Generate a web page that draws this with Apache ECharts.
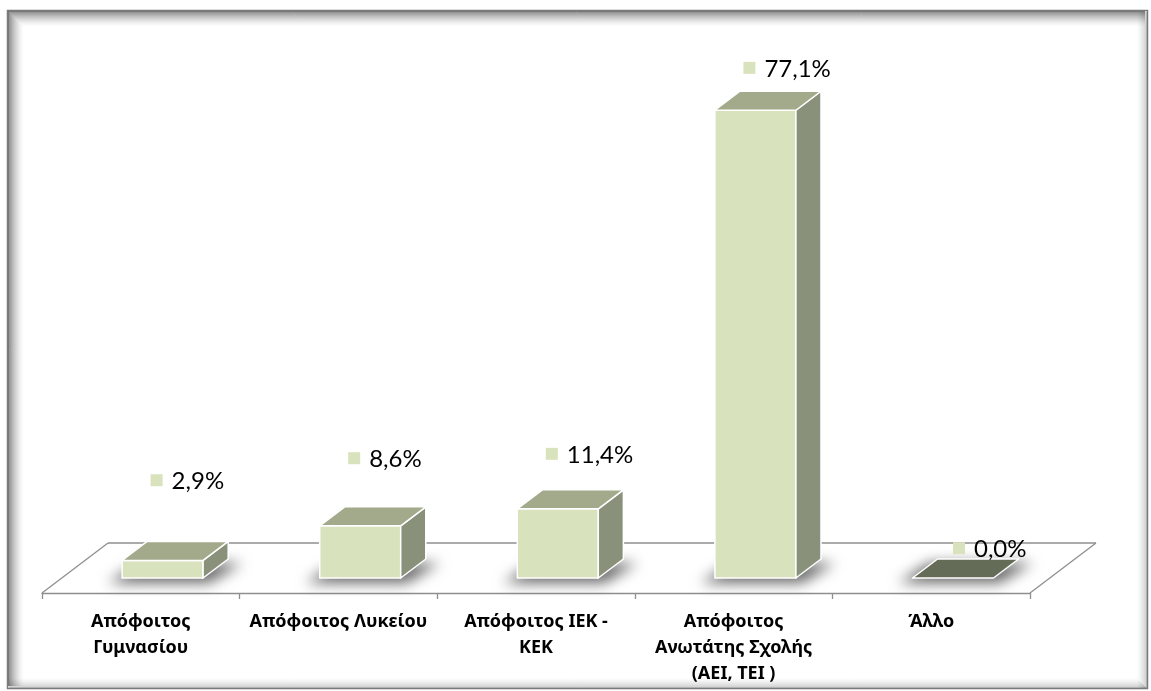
<!DOCTYPE html>
<html>
<head>
<meta charset="utf-8">
<script src="https://cdn.jsdelivr.net/npm/echarts@6/dist/echarts.min.js"></script>
<style>
  html, body { margin: 0; padding: 0; background: #ffffff; }
  #chart { width: 1151px; height: 691px; }
</style>
</head>
<body>
<div id="chart"></div>
<script>
// Education level of respondents (share of total, %)
const categories = [
  'Απόφοιτος\nΓυμνασίου',
  'Απόφοιτος Λυκείου',
  'Απόφοιτος ΙΕΚ -\nΚΕΚ',
  'Απόφοιτος\nΑνωτάτης Σχολής\n(ΑΕΙ, ΤΕΙ )',
  'Άλλο'
];
const shares = [2.9, 8.6, 11.4, 77.1, 0.0];
const shareLabels = shares.map(v => v.toFixed(1).replace('.', ',') + '%');

// Oblique projection of the floor depth (screen px for the full depth)
const DEPTH_DX = 66, DEPTH_DY = -50;
// Bars occupy this slice of the floor depth
const BAR_FRONT = 0.30, BAR_BACK = 0.68;
const BAR_WIDTH_RATIO = 0.41;

const COLORS = {
  front: '#d8e3bd',
  top: '#a2aa8b',
  side: '#8a917a',
  zeroTop: '#646b57',
  key: '#d8e3bd',
  floor: '#8f8f8f'
};

function pt(x, y) { return [x, y]; }

function renderFloor(params, api) {
  const n = categories.length;
  const band = api.size([1, 0])[0];
  const left = api.coord([0, 0])[0] - band / 2;
  const right = api.coord([n - 1, 0])[0] + band / 2;
  const y = api.coord([0, 0])[1];
  const line = (a, b) => ({
    type: 'line',
    shape: { x1: a[0], y1: a[1], x2: b[0], y2: b[1] },
    style: { stroke: COLORS.floor, lineWidth: 1.3 }
  });
  return {
    type: 'group',
    children: [
      line(pt(left + DEPTH_DX, y + DEPTH_DY), pt(right + DEPTH_DX, y + DEPTH_DY)),
      line(pt(left, y), pt(left + DEPTH_DX, y + DEPTH_DY)),
      line(pt(right, y), pt(right + DEPTH_DX, y + DEPTH_DY))
    ]
  };
}

function renderBar(params, api) {
  const i = api.value(0);
  const v = api.value(1);
  const base = api.coord([i, 0]);
  const top = api.coord([i, v]);
  const band = api.size([1, 0])[0];
  const w = band * BAR_WIDTH_RATIO;
  const cx = base[0] + DEPTH_DX * BAR_FRONT + 2;
  const x0 = cx - w / 2, x1 = cx + w / 2;
  const yb = base[1] + DEPTH_DY * BAR_FRONT;
  const yt = top[1] + DEPTH_DY * BAR_FRONT;
  const ddx = DEPTH_DX * (BAR_BACK - BAR_FRONT);
  const ddy = DEPTH_DY * (BAR_BACK - BAR_FRONT);
  const edge = { stroke: '#ffffff', lineWidth: 1.5, lineJoin: 'round' };

  // soft drop shadow of the footprint, drawn off-canvas so only the blur shows
  const OFF = 3000;
  const shadowPts = [
    pt(x0 - 14 - OFF, yb + 5), pt(x1 + 6 - OFF, yb + 5),
    pt(x1 + ddx + 14 - OFF, yb + ddy + 4), pt(x0 + ddx - 8 - OFF, yb + ddy + 4)
  ];
  const children = [{
    type: 'polygon',
    shape: { points: shadowPts },
    style: {
      fill: '#000',
      shadowBlur: 14,
      shadowColor: 'rgba(0,0,0,0.6)',
      shadowOffsetX: OFF,
      shadowOffsetY: 0
    }
  }];

  if (v > 0) {
    children.push({
      type: 'polygon',
      shape: { points: [pt(x0, yb), pt(x1, yb), pt(x1, yt), pt(x0, yt)] },
      style: Object.assign({ fill: COLORS.front }, edge)
    });
    children.push({
      type: 'polygon',
      shape: { points: [pt(x1, yb), pt(x1, yt), pt(x1 + ddx, yt + ddy), pt(x1 + ddx, yb + ddy)] },
      style: Object.assign({ fill: COLORS.side }, edge)
    });
  }
  children.push({
    type: 'polygon',
    shape: { points: [pt(x0, yt), pt(x1, yt), pt(x1 + ddx, yt + ddy), pt(x0 + ddx, yt + ddy)] },
    style: Object.assign({ fill: v > 0 ? COLORS.top : COLORS.zeroTop }, edge)
  });

  // value label: legend key square followed by the percentage
  const lift = 55 - 12.6 * (i - 2);
  const ly = yt - lift;
  const kx = cx - 6 + (v > 0 ? 0 : 12);
  children.push({
    type: 'rect',
    shape: { x: kx - 6, y: ly - 6, width: 12, height: 12 },
    style: { fill: COLORS.key }
  });
  children.push({
    type: 'text',
    x: kx + 15,
    y: ly + 1,
    style: {
      text: shareLabels[params.dataIndex],
      fill: '#000000',
      font: '24px Lato, "Open Sans", sans-serif',
      verticalAlign: 'middle',
      align: 'left'
    }
  });
  return { type: 'group', children };
}

// inner bevel of the outer frame
const frame = [];
const FX = 7, FY = 10, FW = 1140, FH = 678;
frame.push({
  type: 'rect', silent: true,
  shape: { x: FX + 0.5, y: FY + 0.5, width: FW, height: FH },
  style: { fill: 'none', stroke: '#7a7a7a', lineWidth: 1.5 }
});
for (let k = 1; k <= 16; k++) {
  const a = 0.5 * Math.pow(1 - k / 17, 1.6);
  frame.push({
    type: 'line', silent: true,
    shape: { x1: FX + k, y1: FY + k + 0.5, x2: FX + FW - 2, y2: FY + k + 0.5 },
    style: { stroke: 'rgba(0,0,0,' + a.toFixed(3) + ')', lineWidth: 1 }
  });
  frame.push({
    type: 'line', silent: true,
    shape: { x1: FX + k + 0.5, y1: FY + k + 1, x2: FX + k + 0.5, y2: FY + FH - 2 },
    style: { stroke: 'rgba(0,0,0,' + a.toFixed(3) + ')', lineWidth: 1 }
  });
}
for (let k = 1; k <= 10; k++) {
  const a = 0.22 * Math.pow(1 - k / 11, 1.4);
  frame.push({
    type: 'line', silent: true,
    shape: { x1: FX + FW - k + 0.5, y1: FY + 2, x2: FX + FW - k + 0.5, y2: FY + FH },
    style: { stroke: 'rgba(0,0,0,' + a.toFixed(3) + ')', lineWidth: 1 }
  });
  frame.push({
    type: 'line', silent: true,
    shape: { x1: FX + 2, y1: FY + FH - k + 0.5, x2: FX + FW - k, y2: FY + FH - k + 0.5 },
    style: { stroke: 'rgba(0,0,0,' + a.toFixed(3) + ')', lineWidth: 1 }
  });
}

const chart = echarts.init(document.getElementById('chart'), null, { renderer: 'canvas' });
chart.setOption({
  backgroundColor: '#ffffff',
  animation: false,
  graphic: { elements: frame },
  grid: { left: 42, right: 121, top: 47, bottom: 98 },
  xAxis: {
    type: 'category',
    data: categories,
    boundaryGap: true,
    axisLine: { show: true, lineStyle: { color: COLORS.floor, width: 1.3 } },
    axisTick: { show: true, length: 6, lineStyle: { color: COLORS.floor, width: 1.3 } },
    axisLabel: {
      interval: 0,
      margin: 16,
      color: '#000000',
      fontFamily: '"Noto Sans", "Open Sans", sans-serif',
      fontWeight: 'bold',
      fontSize: 18,
      lineHeight: 26,
      align: 'center'
    },
    splitLine: { show: false }
  },
  yAxis: {
    type: 'value',
    min: 0,
    max: 90,
    show: false
  },
  series: [
    {
      type: 'custom',
      name: 'floor',
      data: [[0, 0]],
      renderItem: renderFloor,
      silent: true,
      z: 1
    },
    {
      type: 'custom',
      name: 'share',
      data: shares.map((v, i) => [i, v]),
      renderItem: renderBar,
      encode: { x: 0, y: 1 },
      z: 2
    }
  ]
});
</script>
</body>
</html>
